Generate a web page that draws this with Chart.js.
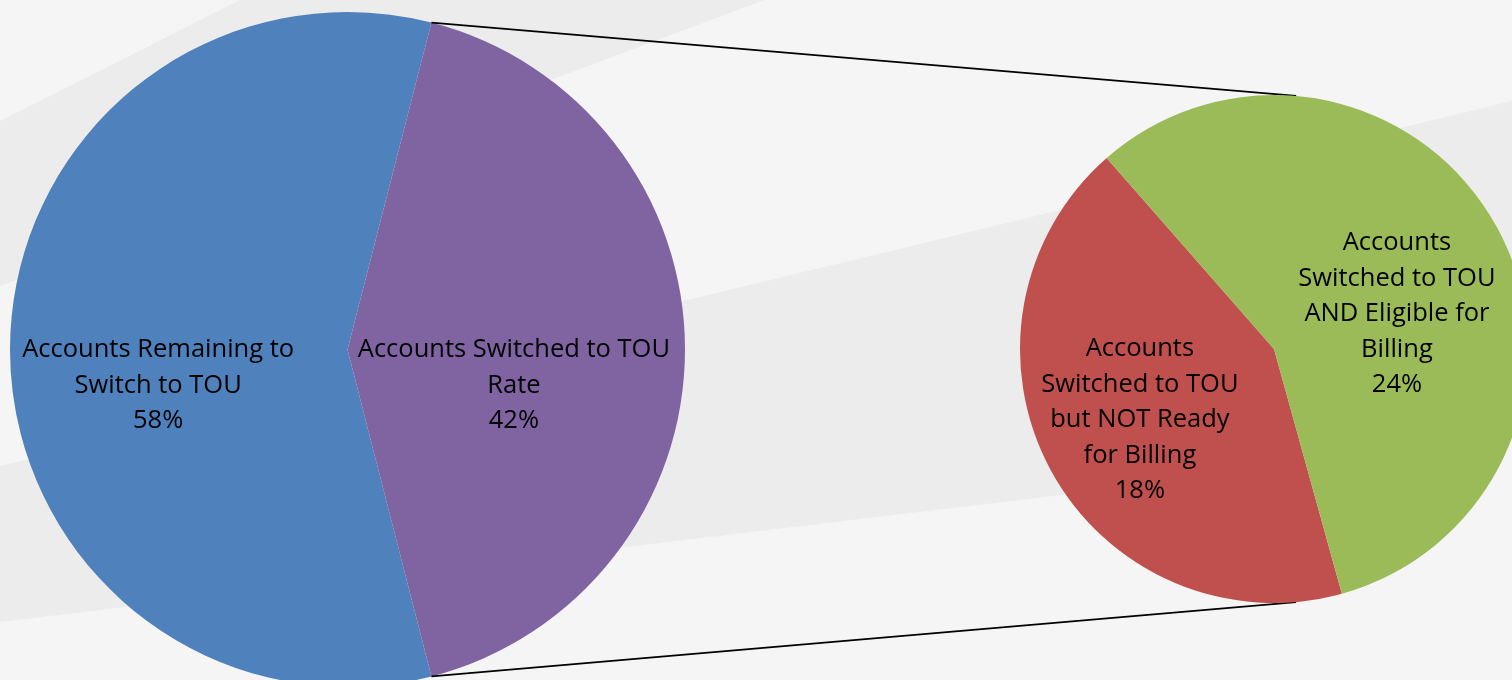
<!DOCTYPE html>
<html>
<head>
<meta charset="utf-8">
<script src="https://cdn.jsdelivr.net/npm/chart.js@4.4.1/dist/chart.umd.min.js"></script>
<style>
  html, body { margin: 0; padding: 0; width: 1512px; height: 680px; overflow: hidden; background: #f5f5f5; }
  .band { position: absolute; left: 0; top: 0; width: 1512px; height: 680px; background: #ececec; }
  #bandA { clip-path: polygon(0 121px, 240px 0, 765px 0, 0 286px); }
  #bandB { clip-path: polygon(0 466px, 1512px 101px, 1512px 441px, 0 622px); }
  #main { position: absolute; left: 0; top: 0; }
  #sub { position: absolute; left: 1000px; top: 0; }
</style>
</head>
<body>
<div class="band" id="bandA"></div>
<div class="band" id="bandB"></div>
<canvas id="main" width="1512" height="700"></canvas>
<canvas id="sub" width="540" height="700"></canvas>
<script>
// primary pie
const mainLabels = [
  ['Accounts Remaining to', 'Switch to TOU'],
  ['Accounts Switched to TOU', 'Rate'],
];
const mainValues = [58, 42];
const mainColors = ['#4f81bd', '#8064a2'];

// secondary pie (split of the 42%)
const subLabels = [
  ['Accounts', 'Switched to TOU', 'but NOT Ready', 'for Billing'],
  ['Accounts', 'Switched to TOU', 'AND Eligible for', 'Billing'],
];
const subValues = [18, 24];
const subColors = ['#c0504d', '#9bbb59'];

const FONT = '25.5px "Open Sans", sans-serif';
const LINE_H = 35.5;

// label block centre, as a fraction of the radius from the pie centre
const mainLabelPos = [[-0.561, 0.107], [0.493, 0.107]];
const subLabelPos = [[-0.528, 0.28], [0.484, -0.138]];

const sliceLabels = {
  id: 'sliceLabels',
  afterDatasetsDraw(chart, args, opts) {
    const { ctx } = chart;
    const ds = chart.data.datasets[0];
    chart.getDatasetMeta(0).data.forEach((arc, i) => {
      const { x, y, outerRadius } = arc.getProps(['x', 'y', 'outerRadius'], true);
      const pos = opts.pos[i];
      const lines = [...chart.data.labels[i], `${ds.data[i]}%`];
      const cx = x + pos[0] * outerRadius;
      const top = y + pos[1] * outerRadius - (lines.length - 1) * LINE_H / 2;
      ctx.save();
      ctx.font = FONT;
      ctx.fillStyle = '#000';
      ctx.textAlign = 'center';
      ctx.textBaseline = 'middle';
      lines.forEach((line, k) => ctx.fillText(line, cx, top + k * LINE_H));
      ctx.restore();
    });
  },
};

function pieOptions(rotation, padding, pos) {
  return {
    responsive: false,
    animation: false,
    events: [],
    rotation,
    layout: { padding },
    plugins: {
      legend: { display: false },
      tooltip: { enabled: false },
      sliceLabels: { pos },
    },
  };
}

const subChart = new Chart(document.getElementById('sub'), {
  type: 'pie',
  data: {
    labels: subLabels,
    datasets: [{ data: subValues, backgroundColor: subColors, borderWidth: 0 }],
  },
  options: pieOptions(164.5, { left: 20, right: 12, top: 95, bottom: 97 }, subLabelPos),
  plugins: [sliceLabels],
});

// lines from the split slice of the main pie to the secondary pie
const connectors = {
  id: 'connectors',
  afterDatasetsDraw(chart) {
    const slice = chart.getDatasetMeta(0).data[1];
    const { x, y, outerRadius, startAngle, endAngle } =
      slice.getProps(['x', 'y', 'outerRadius', 'startAngle', 'endAngle'], true);
    const target = subChart.getDatasetMeta(0).data[0];
    const t = target.getProps(['x', 'y', 'outerRadius'], true);
    const tx = t.x + subChart.canvas.offsetLeft;
    const lean = 5 * Math.PI / 180;
    const ends = [
      [startAngle, [tx + t.outerRadius * Math.sin(lean), t.y - t.outerRadius * Math.cos(lean)]],
      [endAngle, [tx + t.outerRadius * Math.sin(lean), t.y + t.outerRadius * Math.cos(lean)]],
    ];
    const { ctx } = chart;
    ctx.save();
    ctx.strokeStyle = '#000';
    ctx.lineWidth = 1.8;
    ends.forEach(([a, p]) => {
      ctx.beginPath();
      ctx.moveTo(x + outerRadius * Math.cos(a), y + outerRadius * Math.sin(a));
      ctx.lineTo(p[0], p[1]);
      ctx.stroke();
    });
    ctx.restore();
  },
};

new Chart(document.getElementById('main'), {
  type: 'pie',
  data: {
    labels: mainLabels,
    datasets: [{ data: mainValues, backgroundColor: mainColors, borderWidth: 0 }],
  },
  options: pieOptions(165.6, { left: 10, right: 827, top: 12, bottom: 13 }, mainLabelPos),
  plugins: [sliceLabels, connectors],
});
</script>
</body>
</html>
